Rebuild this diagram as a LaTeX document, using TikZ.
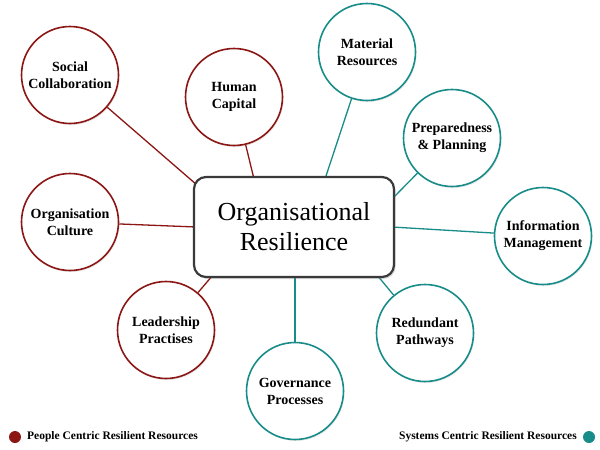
\documentclass[tikz,border=0pt]{standalone}
\usepackage{fontspec}
\setmainfont{Liberation Serif}
\usetikzlibrary{shadows,backgrounds}
\definecolor{pred}{RGB}{139,22,20}
\definecolor{steal}{RGB}{24,140,137}
\definecolor{boxgray}{RGB}{58,58,58}
\tikzset{
  res/.style={circle, draw, fill=white, line width=1.6pt, minimum size=97pt, inner sep=0pt,
    align=center, font=\fontsize{14}{17}\selectfont\bfseries,
    drop shadow={opacity=0.18, shadow xshift=1pt, shadow yshift=-1.5pt}},
  people/.style={res, draw=pred},
  systems/.style={res, draw=steal},
  plink/.style={draw=pred, line width=1.3pt},
  slink/.style={draw=steal, line width=1.3pt},
  centre/.style={draw=boxgray, fill=white, line width=2.2pt, rounded corners=12pt,
    minimum width=200pt, minimum height=100pt, align=center,
    font=\fontsize{26}{30}\selectfont,
    drop shadow={opacity=0.3, shadow xshift=1.5pt, shadow yshift=-2pt}},
  legdot/.style={circle, inner sep=0pt, minimum size=12pt},
  legtext/.style={font=\fontsize{11.5}{13}\selectfont\bfseries, inner sep=0pt}
}
\begin{document}
\begin{tikzpicture}[x=1pt,y=-1pt]
\useasboundingbox (0,0) rectangle (600,450);
% central box
\node[centre] (box) at (294,227) {Organisational\\Resilience};
% people-centric circles
\node[people] (soc) at (70,75) {Social\\Collaboration};
\node[people] (hum) at (234,97) {Human\\Capital};
\node[people] (cul) at (70,222) {Organisation\\Culture};
\node[people] (lead) at (166,330) {Leadership\\Practises};
% systems-centric circles
\node[systems] (mat) at (367,52) {Material\\Resources};
\node[systems] (prep) at (452,138) {Preparedness\\\& Planning};
\node[systems] (info) at (543,236) {Information\\Management};
\node[systems] (red) at (425,333) {Redundant\\Pathways};
\node[systems] (gov) at (295,391) {Governance\\Processes};
% attachment points on the box border
\coordinate (bSoc) at (197,185);
\coordinate (bHum) at (254,179);
\coordinate (bCul) at (196,227);
\coordinate (bLead) at (213,275);
\coordinate (bMat) at (325,179);
\coordinate (bPrep) at (393,198);
\coordinate (bInfo) at (392,227);
\coordinate (bRed) at (377,275);
\coordinate (bGov) at (295,275);
\begin{pgfonlayer}{background}
\draw[plink] (soc) -- (bSoc);
\draw[plink] (hum) -- (bHum);
\draw[plink] (cul) -- (bCul);
\draw[plink] (lead) -- (bLead);
\draw[slink] (mat) -- (bMat);
\draw[slink] (prep) -- (bPrep);
\draw[slink] (info) -- (bInfo);
\draw[slink] (red) -- (bRed);
\draw[slink] (gov) -- (bGov);
\end{pgfonlayer}
% legend
\node[legdot, fill=pred] (ldp) at (15,437) {};
\node[legtext, anchor=west] (ltp) at (27,437) {People Centric Resilient Resources};
\node[legdot, fill=steal] (lds) at (589,437) {};
\node[legtext, anchor=east] (lts) at (577,437) {Systems Centric Resilient Resources};
\end{tikzpicture}
\end{document}
